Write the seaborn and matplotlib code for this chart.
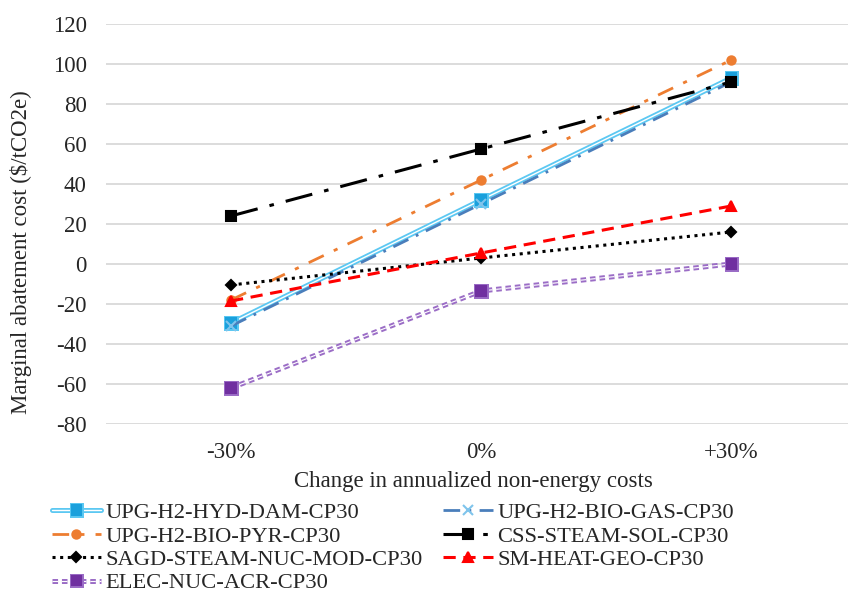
import numpy as np
import pandas as pd
import matplotlib
matplotlib.use('Agg')
import matplotlib.pyplot as plt
import matplotlib.patheffects as pe
import seaborn as sns

# ── data ────────────────────────────────────────────────────
changes = ['-30%', '0%', '+30%']
hyd_dam  = [-29.5, 32.0, 93.0]
bio_gas  = [-31.0, 30.0, 91.0]
bio_pyr  = [-18.0, 42.0, 102.0]
css_sol  = [24.0, 57.5, 91.0]
sagd_nuc = [-10.5, 3.0, 16.0]
sm_geo   = [-18.5, 5.5, 29.0]
elec_acr = [-62.0, -13.5, 0.0]

series = [
    ('UPG-H2-HYD-DAM-CP30', hyd_dam),
    ('UPG-H2-BIO-GAS-CP30', bio_gas),
    ('UPG-H2-BIO-PYR-CP30', bio_pyr),
    ('CSS-STEAM-SOL-CP30', css_sol),
    ('SAGD-STEAM-NUC-MOD-CP30', sagd_nuc),
    ('SM-HEAT-GEO-CP30', sm_geo),
    ('ELEC-NUC-ACR-CP30', elec_acr),
]

# line styles per series
styles = {
    'UPG-H2-HYD-DAM-CP30': dict(color='white', lw=1.0, ls='-', marker='s', ms=7,
                                mfc='#1aa0dc', mec='#1aa0dc', stroke='#5cc8f2'),
    'UPG-H2-BIO-GAS-CP30': dict(color='#4a7ebb', lw=2.0, ls=(0, (6, 3, 1, 3)), marker='x', ms=7,
                                mfc='#7fc4ec', mec='#7fc4ec', stroke=None),
    'UPG-H2-BIO-PYR-CP30': dict(color='#ed7d31', lw=2.0, ls=(0, (6, 4, 1.5, 4)), marker='o', ms=6,
                                mfc='#ed7d31', mec='#ed7d31', stroke=None),
    'CSS-STEAM-SOL-CP30': dict(color='black', lw=2.2, ls=(0, (9, 4, 1.5, 4)), marker='s', ms=7,
                               mfc='black', mec='black', stroke=None),
    'SAGD-STEAM-NUC-MOD-CP30': dict(color='black', lw=2.2, ls=(0, (1, 1.5)), marker='D', ms=5.5,
                                    mfc='black', mec='black', stroke=None),
    'SM-HEAT-GEO-CP30': dict(color='#ff0000', lw=2.2, ls=(0, (4, 2.5)), marker='^', ms=7,
                             mfc='#ff0000', mec='#ff0000', stroke=None),
    'ELEC-NUC-ACR-CP30': dict(color='white', lw=0.8, ls=(0, (5, 3.5)), marker='s', ms=7,
                              mfc='#7030a0', mec='#7030a0', stroke='#9b6dc6'),
}

sns.set_style('white')
plt.rcParams['font.family'] = ['Liberation Serif', 'DejaVu Serif']
plt.rcParams['axes.unicode_minus'] = False

fig = plt.figure(figsize=(8.48, 5.98), dpi=100)
ax = fig.add_axes([0.125, 0.291, 0.885, 0.669])

handles = {}
for name, vals in series:
    st = styles[name]
    df = pd.DataFrame({'change': changes, 'cost': vals})
    sns.lineplot(data=df, x='change', y='cost', ax=ax, sort=False,
                 color=st['color'], linewidth=st['lw'], marker=st['marker'],
                 markersize=st['ms'], markerfacecolor=st['mfc'],
                 markeredgecolor=st['mec'], markeredgewidth=1.5, label=name)
    line = ax.lines[-1]
    line.set_linestyle(st['ls'])
    line.set_zorder(3)
    if st['stroke'] is not None:
        line.set_path_effects([pe.Stroke(linewidth=3.6, foreground=st['stroke']), pe.Normal()])
    handles[name] = line

ax.get_legend().remove()

ax.set_ylim(-80, 120)
ax.set_yticks(np.arange(-80, 121, 20))
ax.set_xlim(-0.5, 2.5)
ax.grid(axis='y', color='#d9d9d9', linewidth=1.3)
ax.set_axisbelow(True)
for s in ax.spines.values():
    s.set_visible(False)
ax.tick_params(axis='y', length=0, labelsize=16.5, pad=14)
ax.tick_params(axis='x', length=0, labelsize=16.5, pad=13)
ax.set_ylabel('Marginal abatement cost ($/tCO2e)', fontsize=16.5)
ax.yaxis.set_label_coords(-0.098, 0.43)
ax.set_xlabel('Change in annualized non-energy costs', fontsize=16.5)
ax.xaxis.set_label_coords(0.49, -0.117)

order = ['UPG-H2-HYD-DAM-CP30', 'UPG-H2-BIO-PYR-CP30', 'SAGD-STEAM-NUC-MOD-CP30',
         'ELEC-NUC-ACR-CP30', 'UPG-H2-BIO-GAS-CP30', 'CSS-STEAM-SOL-CP30',
         'SM-HEAT-GEO-CP30']
fig.legend([handles[n] for n in order], order, ncol=2, loc='upper left',
           bbox_to_anchor=(0.061, 0.16), frameon=False, fontsize=16.2,
           handlelength=2.2, handletextpad=0.2, columnspacing=0.9,
           labelspacing=0.12, borderaxespad=0, borderpad=0)

fig.savefig('out.png', dpi=100)
